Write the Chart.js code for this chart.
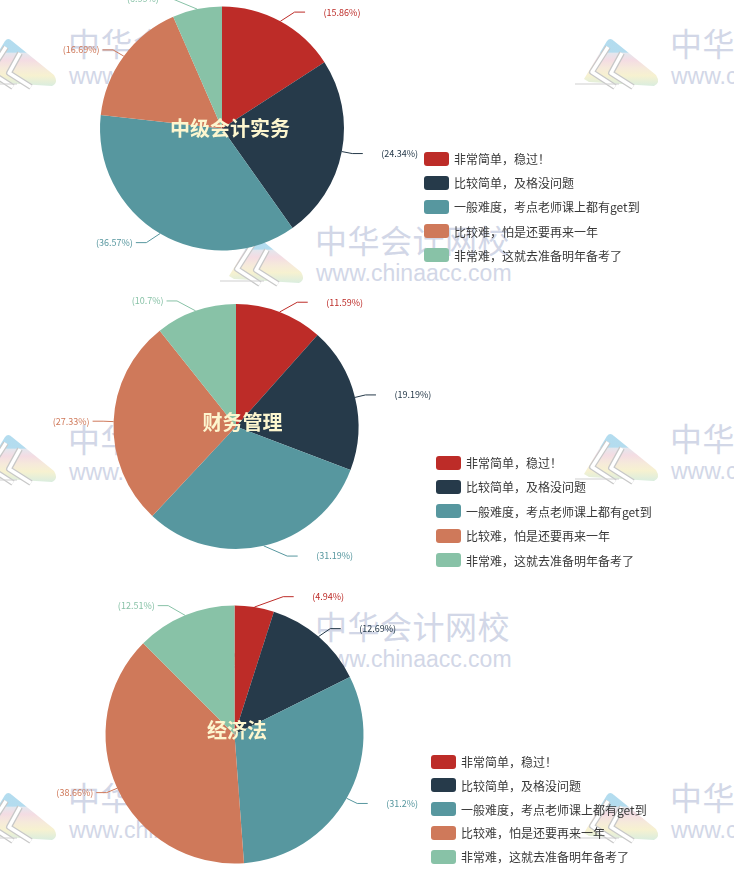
<!DOCTYPE html>
<html>
<head>
<meta charset="utf-8">
<script src="https://cdn.jsdelivr.net/npm/chart.js@4.4.1/dist/chart.umd.min.js"></script>
<style>
  html, body { margin: 0; padding: 0; background: #ffffff; }
  #page { position: relative; width: 734px; height: 877px; overflow: hidden; background: #fff; }
  .wm { position: absolute; pointer-events: none; z-index: 0; }
  .wm .cn { position: absolute; white-space: nowrap; font-family: "Noto Sans CJK SC", sans-serif; font-size: 32px; line-height: 34px; color: #d2d7e7; letter-spacing: 0.5px; }
  .wm .en { position: absolute; white-space: nowrap; font-family: "Liberation Sans", Arial, sans-serif; font-size: 23px; line-height: 24px; color: #d2d7e7; }
  .wm svg { position: absolute; }
  .box { position: absolute; z-index: 1; }
  .title { position: absolute; z-index: 3; transform: translate(-50%, -50%); white-space: nowrap; font-family: "Noto Sans CJK SC", sans-serif; font-weight: bold; font-size: 20px; color: #fdf6cf; }
  .legend-row { position: absolute; z-index: 3; height: 16px; display: flex; align-items: center; white-space: nowrap; font-family: "Noto Sans CJK SC", sans-serif; font-size: 12px; color: #383838; }
  .legend-row span.sw { display: inline-block; width: 25px; height: 14px; border-radius: 3px; margin-right: 5px; }
</style>
</head>
<body>
<div id="page">
  <div class="box" id="b1" style="left:0;top:0;width:734px;height:290px;"><canvas id="c1"></canvas></div>
  <div class="box" id="b2" style="left:0;top:290px;width:734px;height:290px;"><canvas id="c2"></canvas></div>
  <div class="box" id="b3" style="left:0;top:580px;width:734px;height:297px;"><canvas id="c3"></canvas></div>
</div>
<script>
// ---- data ----
const categories = ['非常简单，稳过！', '比较简单，及格没问题', '一般难度，考点老师课上都有get到', '比较难，怕是还要再来一年', '非常难，这就去准备明年备考了'];
const titles = ['中级会计实务', '财务管理', '经济法'];
const valuesShiwu = [15.86, 24.34, 36.57, 16.69, 6.55];
const valuesCaiwu = [11.59, 19.19, 31.19, 27.33, 10.7];
const valuesJingji = [4.94, 12.69, 31.2, 38.66, 12.51];
const watermarkCn = '中华会计网校';
const watermarkEn = 'www.chinaacc.com';

// ---- styles ----
const colors = ['#bd2c28', '#263a4a', '#57979f', '#cf795a', '#88c2a7'];
const page = document.getElementById('page');

// watermarks
const wmSpots = [[68, 42], [670, 42], [315, 239], [68, 438], [670, 437], [315, 625], [68, 796], [670, 796]];
const logoSvg = `
<svg width="86" height="58" viewBox="0 0 86 58">
  <defs>
    <linearGradient id="lg" x1="0" y1="0" x2="0" y2="1">
      <stop offset="0" stop-color="#a6d6ec"/>
      <stop offset="0.28" stop-color="#a6d6ec"/>
      <stop offset="0.30" stop-color="#dfe2ea"/>
      <stop offset="0.45" stop-color="#f2d6de"/>
      <stop offset="0.62" stop-color="#f4e6d4"/>
      <stop offset="0.78" stop-color="#f5efc8"/>
      <stop offset="1" stop-color="#d3ead9"/>
    </linearGradient>
  </defs>
  <path d="M9 44 L32 6 Q35 2 39 6 L81 40 Q86 48 79 51 L14 47 Z" fill="url(#lg)" opacity="0.85"/>
  <path d="M33 12 L17 37 L40 52" fill="none" stroke="#c8c8c8" stroke-width="6" stroke-linejoin="round"/>
  <path d="M33 12 L17 37 L40 52" fill="none" stroke="#ffffff" stroke-width="3.5" stroke-linejoin="round"/>
  <path d="M47 18 L36 38 L58 52" fill="none" stroke="#c8c8c8" stroke-width="6" stroke-linejoin="round"/>
  <path d="M47 18 L36 38 L58 52" fill="none" stroke="#ffffff" stroke-width="3.5" stroke-linejoin="round"/>
  <line x1="0" y1="49" x2="44" y2="49" stroke="#cfcfcf" stroke-width="1"/>
</svg>`;
wmSpots.forEach(([x, y]) => {
  const d = document.createElement('div');
  d.className = 'wm';
  d.style.left = (x - 95) + 'px';
  d.style.top = (y - 17) + 'px';
  d.innerHTML = `<div style="position:absolute;left:0;top:10px;">${logoSvg}</div>
    <div class="cn" style="left:95px;top:0;">${watermarkCn}</div>
    <div class="en" style="left:96px;top:39px;">${watermarkEn}</div>`;
  page.insertBefore(d, page.firstChild);
});

// label plugin (leader lines + percentage text), using the library's arc elements
const pieLabels = {
  id: 'pieLabels',
  afterDatasetsDraw(chart) {
    const ctx = chart.ctx;
    const meta = chart.getDatasetMeta(0);
    const data = chart.data.datasets[0].data;
    const len = 10.5, len2 = 10.5, ghost = 15;
    ctx.save();
    ctx.font = '9px "Noto Sans CJK SC", "Noto Sans", sans-serif';
    ctx.textBaseline = 'middle';
    ctx.lineWidth = 1;
    meta.data.forEach((arc, i) => {
      const p = arc.getProps(['x', 'y', 'startAngle', 'endAngle', 'outerRadius'], true);
      const a = (p.startAngle + p.endAngle) / 2;
      const cos = Math.cos(a), sin = Math.sin(a);
      const r = p.outerRadius;
      const x0 = p.x + r * cos, y0 = p.y + r * sin;
      const side = cos >= 0 ? 1 : -1;
      const y = p.y + (r + len) * sin;
      const dy = Math.abs(y - p.y);
      const R = r + len + len2;
      const dx = dy < r + len ? Math.sqrt(R * R - dy * dy) : Math.abs((r + len) * cos) + len2;
      const xEnd = p.x + side * dx;
      const xElbow = xEnd - side * len2;
      const col = colors[i];
      ctx.strokeStyle = col;
      ctx.beginPath();
      ctx.moveTo(x0, y0);
      ctx.lineTo(xElbow, y);
      ctx.lineTo(xEnd, y);
      ctx.stroke();
      ctx.fillStyle = col;
      const txt = '(' + data[i] + '%)';
      if (side > 0) {
        ctx.textAlign = 'left';
        ctx.fillText(txt, xEnd + 3.5 + ghost, y);
      } else {
        ctx.textAlign = 'right';
        ctx.fillText(txt, xEnd - 3, y);
      }
    });
    ctx.restore();
  }
};

function makePie(id, values, padding) {
  new Chart(document.getElementById(id), {
    type: 'pie',
    data: {
      labels: categories,
      datasets: [{
        data: values,
        backgroundColor: colors,
        borderWidth: 0,
        hoverOffset: 0,
        offset: 0
      }]
    },
    options: {
      responsive: true,
      maintainAspectRatio: false,
      animation: false,
      events: [],
      layout: { padding: padding },
      plugins: { legend: { display: false }, tooltip: { enabled: false } }
    },
    plugins: [pieLabels]
  });
}

makePie('c1', valuesShiwu, { left: 100, right: 390, top: 6.5, bottom: 39.5 });
makePie('c2', valuesCaiwu, { left: 113.5, right: 375.5, top: 14, bottom: 31 });
makePie('c3', valuesJingji, { left: 105.5, right: 370.5, top: 25.5, bottom: 13.5 });

// titles
const titlePos = [[230, 127], [242.5, 421], [237, 729]];
titles.forEach((t, i) => {
  const d = document.createElement('div');
  d.className = 'title';
  d.textContent = t;
  d.style.left = titlePos[i][0] + 'px';
  d.style.top = titlePos[i][1] + 'px';
  page.appendChild(d);
});

// legends
const legendPos = [{ x: 424, y: 158.5, gap: 24.2 }, { x: 436, y: 462.5, gap: 24.4 }, { x: 431, y: 761.5, gap: 23.8 }];
legendPos.forEach(lp => {
  categories.forEach((c, i) => {
    const row = document.createElement('div');
    row.className = 'legend-row';
    row.style.left = lp.x + 'px';
    row.style.top = (lp.y + i * lp.gap - 8) + 'px';
    row.innerHTML = `<span class="sw" style="background:${colors[i]}"></span><span>${c}</span>`;
    page.appendChild(row);
  });
});
</script>
</body>
</html>
